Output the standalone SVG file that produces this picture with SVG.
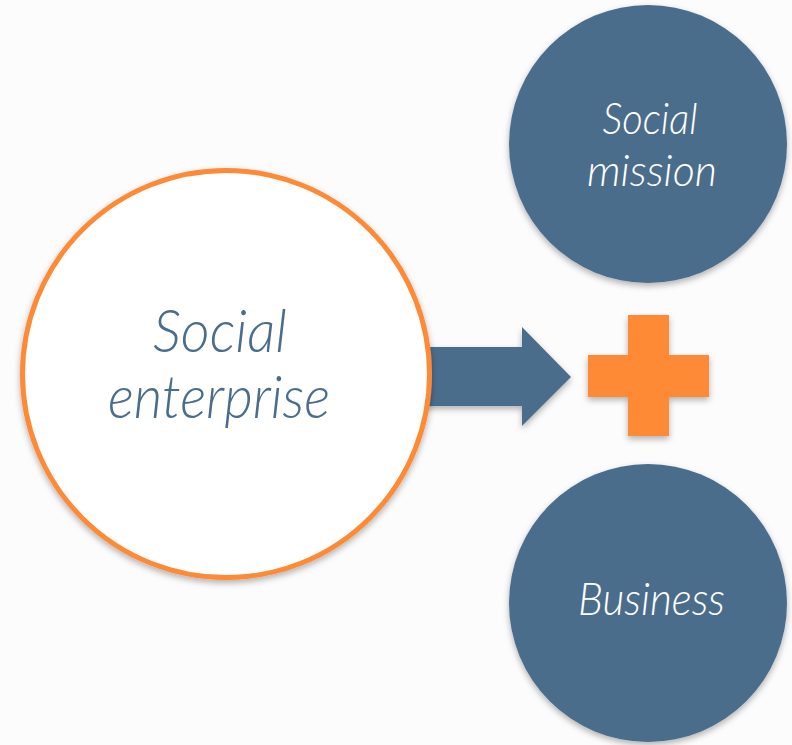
<svg xmlns="http://www.w3.org/2000/svg" width="792" height="745" viewBox="0 0 792 745">
<defs>
<filter id="sh" x="-10%" y="-10%" width="120%" height="125%">
<feDropShadow dx="0" dy="3" stdDeviation="3" flood-color="#000" flood-opacity="0.3"/>
</filter>
<style>
.blue{fill:#4b6d8c}
.orange{fill:#fe8a36}
.lbl{font-family:Lato,"Open Sans","Liberation Sans",sans-serif;font-style:italic;font-weight:300;text-anchor:middle}
.w{fill:#ffffff}
.b{fill:#4b6d8c}
</style>
</defs>
<rect width="792" height="745" fill="#fcfcfc"/>
<g id="connectors">
<path class="blue" filter="url(#sh)" d="M415,347 L522,347 L522,327 L571,377 L522,426 L522,406 L415,406 Z"/>
</g>
<g id="social-enterprise">
<circle cx="226" cy="374" r="203.5" fill="#ffffff" stroke="#fe8a36" stroke-width="5" filter="url(#sh)"/>
<text class="lbl b" x="220" y="352" font-size="60" textLength="134" lengthAdjust="spacingAndGlyphs">Social</text>
<text class="lbl b" x="219" y="418" font-size="60" textLength="222" lengthAdjust="spacingAndGlyphs">enterprise</text>
</g>
<g id="plus">
<path class="orange" filter="url(#sh)" d="M628,315 L669,315 L669,355 L709,355 L709,397 L669,397 L669,436 L628,436 L628,397 L588,397 L588,355 L628,355 Z"/>
</g>
<g id="social-mission">
<circle class="blue" cx="648" cy="144" r="139" filter="url(#sh)"/>
<text class="lbl w" x="650" y="134" font-size="44" textLength="95" lengthAdjust="spacingAndGlyphs">Social</text>
<text class="lbl w" x="652" y="186" font-size="44" textLength="130" lengthAdjust="spacingAndGlyphs">mission</text>
</g>
<g id="business">
<circle class="blue" cx="648" cy="603" r="139" filter="url(#sh)"/>
<text class="lbl w" x="651.5" y="615" font-size="45" textLength="147" lengthAdjust="spacingAndGlyphs">Business</text>
</g>
</svg>
